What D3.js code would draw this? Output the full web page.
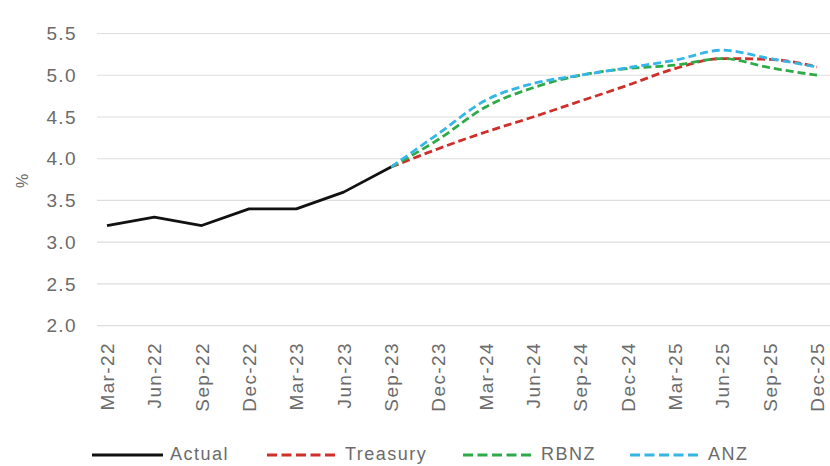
<!DOCTYPE html>
<html>
<head>
<meta charset="utf-8">
<script src="https://cdn.jsdelivr.net/npm/d3@7"></script>
<style>
  html, body { margin: 0; padding: 0; background: #fff; }
  svg { display: block; }
  text { font-family: "Liberation Sans", Arial, sans-serif; fill: #6b6b6b; }
</style>
</head>
<body>
<svg id="chart" width="830" height="466"></svg>
<script>
const categories = ["Mar-22","Jun-22","Sep-22","Dec-22","Mar-23","Jun-23","Sep-23","Dec-23","Mar-24","Jun-24","Sep-24","Dec-24","Mar-25","Jun-25","Sep-25","Dec-25"];
const actual   = [3.2, 3.3, 3.2, 3.4, 3.4, 3.6, 3.9, null, null, null, null, null, null, null, null, null];
const treasury = [null, null, null, null, null, null, 3.9, 4.12, 4.32, 4.5, 4.69, 4.88, 5.08, 5.2, 5.19, 5.1];
const rbnz     = [null, null, null, null, null, null, 3.9, 4.23, 4.62, 4.85, 5.0, 5.08, 5.12, 5.2, 5.09, 5.0];
const anz      = [null, null, null, null, null, null, 3.9, 4.3, 4.7, 4.9, 5.0, 5.09, 5.18, 5.3, 5.2, 5.1];
const yTicks   = [2.0, 2.5, 3.0, 3.5, 4.0, 4.5, 5.0, 5.5];
const seriesNames  = ["Actual", "Treasury", "RBNZ", "ANZ"];
const seriesColors = ["#111111", "#cf2f2a", "#2faa48", "#35b6e6"];

const series = [
  {name: seriesNames[0], values: actual,   color: seriesColors[0], dash: null},
  {name: seriesNames[1], values: treasury, color: seriesColors[1], dash: "8,4"},
  {name: seriesNames[2], values: rbnz,     color: seriesColors[2], dash: "8,4"},
  {name: seriesNames[3], values: anz,      color: seriesColors[3], dash: "8,4"}
];

const FS = "19px", LS = "1.4px";
const svg = d3.select("#chart");
const x = d3.scalePoint().domain(categories).range([107, 817]);
const y = d3.scaleLinear().domain([2.0, 5.5]).range([325.7, 33.5]);

// gridlines
svg.append("g").selectAll("line").data(yTicks).join("line")
  .attr("x1", 97).attr("x2", 830)
  .attr("y1", d => y(d)).attr("y2", d => y(d))
  .attr("stroke", "#dedede").attr("stroke-width", 1.2);

// y axis labels
const yAxis = d3.axisLeft(y).tickValues(yTicks).tickFormat(d3.format(".1f")).tickSize(0).tickPadding(0);
const gy = svg.append("g").attr("transform", "translate(77,0)").call(yAxis);
gy.select(".domain").remove();
gy.selectAll("text").style("font-size", FS).style("letter-spacing", LS).attr("fill", "#6b6b6b");

// x axis labels
const xAxis = d3.axisBottom(x).tickSize(0).tickPadding(0);
const gx = svg.append("g").attr("transform", "translate(0,342)").call(xAxis);
gx.select(".domain").remove();
gx.selectAll("text")
  .style("font-size", FS).style("letter-spacing", LS).attr("fill", "#6b6b6b")
  .attr("text-anchor", "end")
  .attr("transform", "rotate(-90)")
  .attr("x", 0).attr("y", 0)
  .attr("dy", "0.35em");

// y title
svg.append("text").attr("transform", "translate(22,181) rotate(-90)")
  .attr("text-anchor", "middle").attr("dy", "0.35em")
  .style("font-size", "16px").text("%");

// lines
const lineLinear = d3.line().defined(d => d.v != null).x(d => x(d.c)).y(d => y(d.v));
const lineSmooth = d3.line().defined(d => d.v != null).x(d => x(d.c)).y(d => y(d.v)).curve(d3.curveMonotoneX);
const order = [1, 2, 3, 0];
order.forEach(i => {
  const s = series[i];
  const pts = categories.map((c, j) => ({c, v: s.values[j]}));
  svg.append("path").datum(pts)
    .attr("d", i === 0 ? lineLinear : lineSmooth)
    .attr("fill", "none").attr("stroke", s.color)
    .attr("stroke-width", 2.8)
    .attr("stroke-dasharray", s.dash)
    .attr("stroke-linejoin", "round");
});

// legend
const legendX = [92, 267, 463, 630];
const legendY = 454;
const lg = svg.append("g");
series.forEach((s, i) => {
  lg.append("line")
    .attr("x1", legendX[i]).attr("x2", legendX[i] + 71)
    .attr("y1", legendY + 1).attr("y2", legendY + 1)
    .attr("stroke", s.color).attr("stroke-width", 2.8)
    .attr("stroke-dasharray", s.dash ? "10,4.5" : null);
  lg.append("text")
    .attr("x", legendX[i] + 78).attr("y", legendY).attr("dy", "0.35em")
    .style("font-size", "18px").style("letter-spacing", "1.5px")
    .text(s.name);
});
</script>
</body>
</html>
